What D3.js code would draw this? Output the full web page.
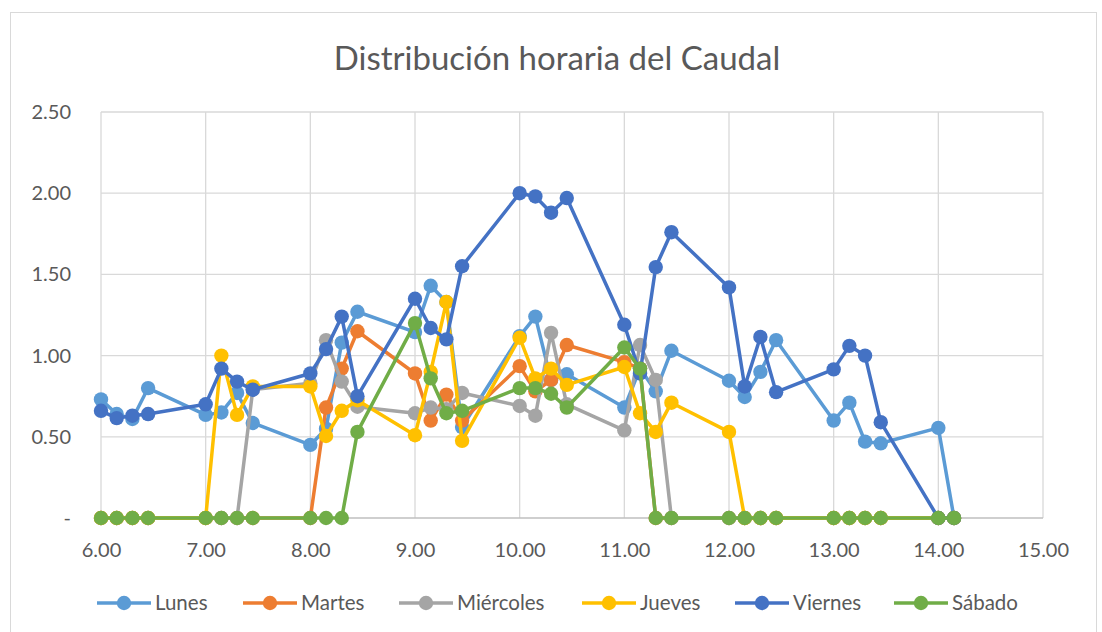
<!DOCTYPE html>
<html>
<head>
<meta charset="utf-8">
<script src="https://cdn.jsdelivr.net/npm/d3@7"></script>
<style>
	body { margin: 0; background: #fff; }
	svg text { font-family: Lato, "Open Sans", sans-serif; fill: #595959; }
</style>
</head>
<body>
<svg id="chart" width="1102" height="632"></svg>
<script>
// hours written as h.mm, the way the sheet plots them
var times = [6.00, 6.15, 6.30, 6.45, 7.00, 7.15, 7.30, 7.45, 8.00, 8.15, 8.30, 8.45,
	9.00, 9.15, 9.30, 9.45, 10.00, 10.15, 10.30, 10.45, 11.00, 11.15, 11.30, 11.45,
	12.00, 12.15, 12.30, 12.45, 13.00, 13.15, 13.30, 13.45, 14.00, 14.15];

var lunes     = [0.73, 0.64, 0.61, 0.80, 0.635, 0.65, 0.77, 0.585, 0.45, 0.55, 1.08, 1.27,
	1.145, 1.43, 1.33, 0.56, 1.12, 1.24, 0.85, 0.885, 0.68, 0.92, 0.78, 1.03,
	0.845, 0.745, 0.90, 1.095, 0.60, 0.71, 0.47, 0.46, 0.555, 0];
var martes    = [0, 0, 0, 0, 0, 0, 0, 0, 0, 0.68, 0.92, 1.15,
	0.89, 0.60, 0.76, 0.60, 0.935, 0.78, 0.85, 1.065, 0.96, 0.92, 0, 0,
	0, 0, 0, 0, 0, 0, 0, 0, 0, 0];
var miercoles = [0, 0, 0, 0, 0, 0, 0, 0.79, 0.83, 1.095, 0.84, 0.685,
	0.645, 0.68, 0.67, 0.77, 0.69, 0.63, 1.14, 0.70, 0.54, 1.065, 0.85, 0,
	0, 0, 0, 0, 0, 0, 0, 0, 0, 0];
var jueves    = [0, 0, 0, 0, 0, 1.00, 0.635, 0.81, 0.81, 0.505, 0.66, 0.725,
	0.51, 0.90, 1.33, 0.475, 1.11, 0.86, 0.92, 0.82, 0.93, 0.645, 0.53, 0.71,
	0.53, 0, 0, 0, 0, 0, 0, 0, 0, 0];
var viernes   = [0.66, 0.615, 0.63, 0.64, 0.70, 0.92, 0.84, 0.79, 0.89, 1.04, 1.24, 0.75,
	1.35, 1.17, 1.10, 1.55, 2.00, 1.98, 1.88, 1.97, 1.19, 0.89, 1.545, 1.76,
	1.42, 0.81, 1.115, 0.775, 0.915, 1.06, 1.00, 0.59, 0, 0];
var sabado    = [0, 0, 0, 0, 0, 0, 0, 0, 0, 0, 0, 0.53,
	1.20, 0.86, 0.645, 0.66, 0.80, 0.80, 0.765, 0.68, 1.05, 0.92, 0, 0,
	0, 0, 0, 0, 0, 0, 0, 0, 0, 0];

var seriesNames = ["Lunes", "Martes", "Miércoles", "Jueves", "Viernes", "Sábado"];
var seriesValues = [lunes, martes, miercoles, jueves, viernes, sabado];
var seriesColors = ["#5B9BD5", "#ED7D31", "#A5A5A5", "#FFC000", "#4472C4", "#70AD47"];

var xTicks = [6, 7, 8, 9, 10, 11, 12, 13, 14, 15];
var yTicks = [0, 0.5, 1, 1.5, 2, 2.5];

var svg = d3.select("#chart");
var PLOT = { left: 101, right: 1043, top: 112, bottom: 518 };
var LINE_W = 3.5, MARK_R = 7.2;

// chart frame
svg.append("rect")
	.attr("x", 10.5).attr("y", 12.5)
	.attr("width", 1086).attr("height", 640)
	.attr("fill", "#fff")
	.attr("stroke", "#D9D9D9")
	.attr("stroke-width", 1);

var x = d3.scaleLinear().domain([6, 15]).range([PLOT.left, PLOT.right]);
var y = d3.scaleLinear().domain([0, 2.5]).range([PLOT.bottom, PLOT.top]);

// gridlines
var grid = svg.append("g");
grid.selectAll("line.v").data(xTicks).enter().append("line")
	.attr("x1", function(d) { return x(d); })
	.attr("x2", function(d) { return x(d); })
	.attr("y1", PLOT.top).attr("y2", PLOT.bottom)
	.attr("stroke", "#D9D9D9").attr("stroke-width", 1.3);
grid.selectAll("line.h").data(yTicks).enter().append("line")
	.attr("x1", PLOT.left).attr("x2", PLOT.right)
	.attr("y1", function(d) { return y(d); })
	.attr("y2", function(d) { return y(d); })
	.attr("stroke", function(d) { return d === 0 ? "#BFBFBF" : "#D9D9D9"; })
	.attr("stroke-width", 1.3);

// axes (labels only)
var yAxis = svg.append("g")
	.attr("transform", "translate(" + (PLOT.left - 27) + ",0)")
	.call(d3.axisLeft(y).tickValues(yTicks).tickSize(0)
		.tickFormat(function(d) { return d === 0 ? "-" : d.toFixed(2); }));
var xAxis = svg.append("g")
	.attr("transform", "translate(0," + (PLOT.bottom + 22) + ")")
	.call(d3.axisBottom(x).tickValues(xTicks).tickSize(0)
		.tickFormat(function(d) { return d.toFixed(2); }));
[yAxis, xAxis].forEach(function(a) {
	a.select(".domain").remove();
	a.selectAll("text").style("font-size", "20px").attr("fill", "#595959");
});
yAxis.selectAll("text").attr("dx", 0);

// series: line then markers, in sheet order so Sábado ends on top
var line = d3.line()
	.defined(function(d) { return d.v != null; })
	.x(function(d) { return x(d.t); })
	.y(function(d) { return y(d.v); });

seriesNames.forEach(function(name, i) {
	var pts = times.map(function(t, j) { return { t: t, v: seriesValues[i][j] }; });
	var g = svg.append("g").attr("class", "series");
	g.append("path")
		.attr("d", line(pts))
		.attr("fill", "none")
		.attr("stroke", seriesColors[i])
		.attr("stroke-width", LINE_W)
		.attr("stroke-linejoin", "round");
	g.selectAll("circle").data(pts.filter(function(d) { return d.v != null; }))
		.enter().append("circle")
		.attr("cx", function(d) { return x(d.t); })
		.attr("cy", function(d) { return y(d.v); })
		.attr("r", MARK_R)
		.attr("fill", seriesColors[i]);
});

// title
svg.append("text")
	.attr("x", 557).attr("y", 70)
	.attr("text-anchor", "middle")
	.style("font-size", "33px")
	.text("Distribución horaria del Caudal");

// legend
var legendX = [97, 243, 399, 582, 735, 894];
var legend = svg.append("g").attr("transform", "translate(0,603)");
seriesNames.forEach(function(name, i) {
	var lg = legend.append("g").attr("transform", "translate(" + legendX[i] + ",0)");
	lg.append("line")
		.attr("x1", 0).attr("x2", 54)
		.attr("stroke", seriesColors[i]).attr("stroke-width", LINE_W);
	lg.append("circle").attr("cx", 27).attr("r", MARK_R).attr("fill", seriesColors[i]);
	lg.append("text")
		.attr("x", 58).attr("dy", "0.35em")
		.style("font-size", "20.5px")
		.text(name);
});
</script>
</body>
</html>
